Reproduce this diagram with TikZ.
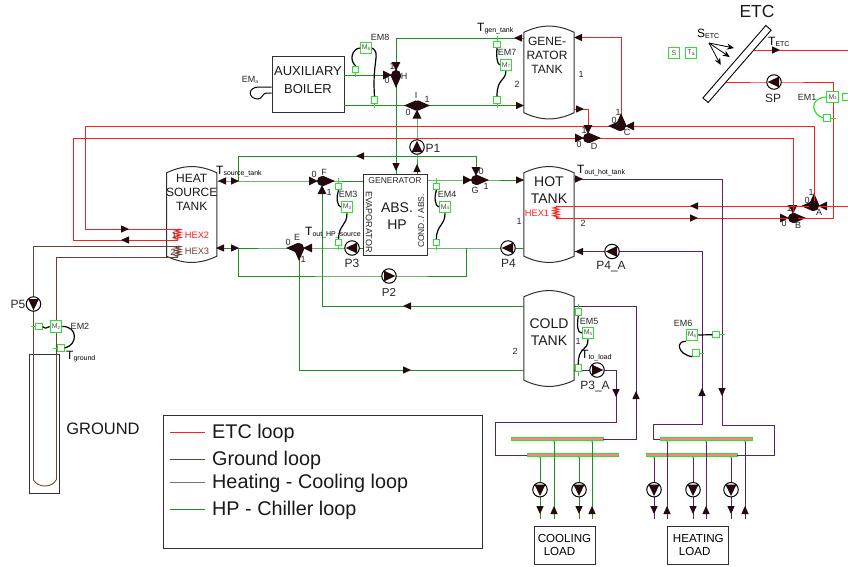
\documentclass[tikz,border=0pt]{standalone}
\usepackage{fontspec}
\setmainfont{Liberation Sans}
\usetikzlibrary{calc,arrows.meta,decorations.pathmorphing}
\definecolor{etcred}{HTML}{FF1E1E}
\definecolor{hpgreen}{HTML}{1E8F1E}
\definecolor{gndbrown}{HTML}{6E4030}
\definecolor{hcpurple}{HTML}{5A2070}
\definecolor{metergreen}{HTML}{30E030}
\definecolor{boxgray}{HTML}{303030}
\definecolor{tipdark}{HTML}{240A0E}
\newcommand{\fs}[1]{\fontsize{#1}{\dimexpr #1pt*116/100\relax}\selectfont}
\newcommand{\subtag}[2]{{\fs{12}#1}{\fs{7}\raisebox{-1pt}{#2}}}
\newcommand{\mtxt}[1]{{\fs{7}M\raisebox{-.8pt}{\fs{4.5}#1}}}
\newcommand{\valve}[4]{\node[valvebody] (#1) at (#2) {};
  \foreach \a in {#3} \fill[tipdark,shift={(#1)},rotate=\a] (1,5.2) -- (13,0) -- (1,-5.2) -- cycle;
  \foreach \a in {#4} \fill[tipdark,shift={(#1)},rotate=\a] (4,0) -- (13,4.4) -- (13,-4.4) -- cycle;}
\newcommand{\pump}[3]{\node[pumpbody] (#1) at (#2) {};
  \fill[tipdark,shift={(#1)},rotate=#3] (6.3,0) -- (-5,5.4) -- (-5,-5.4) -- cycle;}
\newcommand{\tank}[4]{\node[tankbody,minimum height=#4] (#1) at (#2,#3) {};
  \draw[tankline] (#1.north west) to[bend left=25] (#1.north east) -- (#1.south east)
    to[bend left=25] (#1.south west) -- cycle;}
\begin{document}
\begin{tikzpicture}[x=1pt,y=-1pt,
  hploop/.style={draw=hpgreen, line width=.9pt},
  etcloop/.style={draw=etcred, line width=.9pt},
  gndloop/.style={draw=gndbrown, line width=.9pt},
  hcloop/.style={draw=hcpurple, line width=.9pt},
  tankbody/.style={minimum width=50, inner sep=0pt},
  tankline/.style={draw=boxgray, line width=1pt},
  plain/.style={draw=boxgray, line width=1pt, inner sep=0pt, align=center},
  valvebody/.style={circle, fill=tipdark, minimum size=10, inner sep=0pt},
  pumpbody/.style={circle, draw=black, fill=white, line width=1pt, minimum size=14.5, inner sep=0pt},
  mbox/.style={draw=metergreen, fill=white, line width=1pt, minimum size=11.5, inner sep=0pt, text=black!70},
  sensor/.style={draw=metergreen, fill=white, line width=1pt, minimum size=6.5, inner sep=0pt},
  tick/.style={draw=metergreen, line width=.8pt},
  wire/.style={draw=black, line width=1.2pt},
  manifold/.style={draw=metergreen, fill=etcred!55, line width=.7pt, minimum height=3, inner sep=0pt},
  tag/.style={inner sep=0pt, text=black!85, font=\fs{9}},
  tanktext/.style={inner sep=0pt, align=center, text=black!90},
  pumptag/.style={inner sep=0pt, text=black!85, font=\fs{12}},
  coil/.style={decorate, decoration={zigzag, segment length=2.6, amplitude=3}, line width=.9pt},
  legline/.style={line width=1pt},
  legtext/.style={anchor=west, inner sep=0pt, font=\fs{19.8}, text=black!90}]
\useasboundingbox (0,0) rectangle (848,566);

\node[plain, minimum width=72, minimum height=56] (boiler) at (308,84) {};
\node[tanktext, font=\fs{13}] (boilername) at (308,80) {AUXILIARY\\[2.5pt]BOILER};
\node[plain, minimum width=64, minimum height=81] (HP) at (395,214.5) {};
\node[tanktext, font=\fs{14}] (HPname) at (397,216) {ABS.\\HP};
\node[inner sep=0pt, font=\fs{8.5}, text=black!85] (HPgen) at (395,181) {GENERATOR};
\node[inner sep=0pt, font=\fs{9}, rotate=-90, text=black!85] (HPevap) at (369,222) {EVAPORATOR};
\node[inner sep=0pt, font=\fs{8.5}, rotate=90, text=black!85] (HPcond) at (421,221) {COND. / ABS.};
\tank{GT}{549}{72.5}{80}
\tank{HT}{549}{214.5}{83}
\tank{CT}{549}{338.5}{83}
\tank{ST}{191.7}{214.5}{83}
\node[tanktext, font=\fs{12}] (GTname) at (547,55) {GENE-\\RATOR\\TANK};
\node[tanktext, font=\fs{14}] (HTname) at (549,190) {HOT\\TANK};
\node[tanktext, font=\fs{14}] (CTname) at (549,332) {COLD\\TANK};
\node[tanktext, font=\fs{12}] (STname) at (191.7,192) {HEAT\\SOURCE\\TANK};
\node[draw=black, fill=white, line width=.9pt, rotate=49, minimum width=96, minimum height=7, inner sep=0pt] (ETC) at (737,64) {};
\node[inner sep=0pt, font=\fs{17.5}, text=black!90] (ETCname) at (757,11) {ETC};
\node[draw=boxgray, line width=1pt, minimum width=30, minimum height=139.5, inner sep=0pt] (ground) at (44.3,424) {};
\node[inner sep=0pt, font=\fs{16.5}, text=black!90] (groundname) at (103,429) {GROUND};

\node[manifold, minimum width=92] (CU) at (557,439) {};
\node[manifold, minimum width=91] (CL) at (572.5,455) {};
\node[manifold, minimum width=92] (HU) at (706,439) {};
\node[manifold, minimum width=91] (HL) at (691.5,455) {};
\node[plain, minimum width=61, minimum height=38, align=left, font=\fs{11.6}] (coolload) at (564.5,545) {COOLING\\\hspace*{6pt}LOAD};
\node[plain, minimum width=61, minimum height=38, align=left, font=\fs{11.6}] (heatload) at (698.3,545) {HEATING\\\hspace*{6pt}LOAD};

\valve{A}{814,206}{180,90}{0}
\valve{B}{793,218}{0}{180,90}

\coordinate (boilerhot) at (344,75);
\coordinate (boilercold) at (344,105.5);
\coordinate (gentop) at (524,38);
\coordinate (genbot) at (524,105.5);
\coordinate (retop) at (238,156);
\coordinate (rejoin) at (238,181);
\coordinate (STa) at (217,181);
\coordinate (STb) at (217,248);
\coordinate (hota) at (524,180);
\coordinate (hotb) at (524,248);
\coordinate (coldtop) at (524,306);
\coordinate (coldbot) at (524,370);
\coordinate (lowA) at (238,248);
\coordinate (lowB) at (466,248);
\coordinate (etcA) at (85,126);
\coordinate (etcB) at (73,138);
\coordinate (HXa) at (178,229);
\coordinate (HXb) at (178,240);
\coordinate (HXc) at (178,246);
\coordinate (HXd) at (178,257);
\coordinate (gentopr) at (574,37.5);
\coordinate (genbotr) at (574,109);
\coordinate (HXe) at (556,206);
\coordinate (HXf) at (556,218);
\coordinate (etcin) at (848,206);
\coordinate (etcup) at (833,218);
\coordinate (etclow) at (726,82);
\coordinate (etcout) at (754,50);
\coordinate (etcend) at (848,50);
\coordinate (hotout) at (574,179);
\coordinate (hotin) at (574,251.5);
\coordinate (coldout) at (574,306);
\coordinate (coldin) at (574,370);
\coordinate (heatR) at (722,425);
\coordinate (heatRb) at (774,455);
\coordinate (heatL) at (702,424);
\coordinate (heatLb) at (653,439);
\coordinate (coolR) at (636,439);
\coordinate (coolL) at (616,422);
\coordinate (coolLb) at (495,455);
\coordinate (gndL) at (33.5,480);
\coordinate (gndR) at (56,480);

\coordinate (H) at (396,75);
\coordinate (I) at (417,105.5);
\coordinate (F) at (322,181);
\coordinate (E) at (299,248);
\coordinate (G) at (476,180);
\coordinate (C) at (621,126);
\coordinate (D) at (588,138);
\coordinate (P1) at (417,147);
\coordinate (P2) at (389,276);
\coordinate (P3) at (352,248);
\coordinate (P4) at (508,248);
\coordinate (P4A) at (612,251.5);
\coordinate (P3A) at (597,370);
\coordinate (SP) at (774,82);

\draw[hploop] (H) |- (gentop);
\draw[hploop] (H) -- (H |- HP.north);
\draw[hploop] (boilerhot) -- (H);
\draw[hploop] (boilercold) -- (I) -- (genbot);
\draw[hploop] (I) -- (P1) -- (I |- HP.north);
\draw[hploop] (G) |- (retop) -- (rejoin);
\draw[hploop] (STa) -- (F) -- (F -| HP.west);
\draw[hploop] (HP.east |- G) -- (G) -- (hota);
\draw[hploop] (F) |- (coldtop);
\draw[hploop] (E) |- (coldbot);
\draw[hploop] (STb) -- (E) -- (P3) -- (P3 -| HP.west);
\draw[hploop] (HP.east |- P4) -- (P4) -- (hotb);
\draw[hploop] (lowA) |- (P2) -| (lowB);

\draw[etcloop] (HXa) -| (etcA) -| (A);
\draw[etcloop] (HXb) -| (etcB) -| (B);
\draw[etcloop] (gentopr) -| (C);
\draw[etcloop] (genbotr) -| (D);
\draw[etcloop] (HXe) -- (A) -- (etcin);
\draw[etcloop] (HXf) -- (B) -- (etcup) |- (SP) -- (etclow);
\draw[etcloop] (etcout) -- (etcend);
\draw[etcloop, coil] (HXa) -- (HXb);
\draw[etcloop, coil] (HXe) -- (HXf);

\draw[gndloop] (HXc) -| (gndL);
\draw[gndloop] (HXd) -| (gndR);
\draw[gndloop, coil] (HXc) -- (HXd);
\draw[gndloop] (gndL) .. controls (38,488) and (52,488) .. (gndR);

\draw[hcloop] (hotout) -| (heatR) -| (heatRb) -- (HL.east);
\draw[hcloop] (hotin) -- (P4A) -| (heatL) -| (heatLb) -- (HU.west);
\draw[hcloop] (coldout) -| (coolR) -- (CU.east);
\draw[hcloop] (coldin) -- (P3A) -| (coolL) -| (coolLb) -- (CL.west);

\foreach \x in {554,592} {
  \draw[hploop] (\x,441) -- (\x,519);
  \fill[metergreen] (\x,441) circle (1.4);
}
\foreach \x in {540,579} {
  \draw[hploop] (\x,457) -- (\x,519);
  \fill[metergreen] (\x,457) circle (1.4);
  \pump{cp\x}{\x,489.7}{270}
}
\foreach \x in {667,706,745} {
  \draw[hcloop] (\x,441) -- (\x,519);
  \fill[metergreen] (\x,441) circle (1.4);
}
\foreach \x in {654,693,731} {
  \draw[hcloop] (\x,457) -- (\x,519);
  \fill[metergreen] (\x,457) circle (1.4);
  \pump{hp\x}{\x,489.7}{270}
}

\valve{H}{396,75}{270}{180,90}
\valve{I}{417,105.5}{180,0}{270}
\valve{F}{322,181}{0}{180,270}
\valve{E}{299,248}{180,270}{0}
\valve{G}{476,180}{0}{180,90}
\valve{C}{621,126}{180,90}{0}
\valve{D}{588,138}{0}{180,90}

\pump{P1}{417,147}{90}
\pump{P2}{389,276}{0}
\pump{P3}{352,248}{180}
\pump{P4}{508,248}{180}
\pump{P4A}{612,251.5}{180}
\pump{P3A}{597,370}{0}
\pump{P5}{33.5,304}{270}
\pump{SP}{774,82}{180}

\foreach \x/\y/\a in {518/38/180, 520/105.5/0, 360/156/180, 396/167/270, 417/168/90,
  222/181/180, 235/181/0, 220/248/180, 235/248/0, 520/180/0, 407/306/180, 407/370/0,
  125/229/0, 125/240/180, 578/37.5/180, 580/109/0, 694/206/180, 694/218/0, 776/50/0,
  579/179/0, 579/251.5/180, 722/392/270, 702/392/90, 636/395/90, 616/393/270,
  540/510/270, 579/510/270, 654/510/270, 693/510/270, 731/510/270,
  554/510/90, 592/510/90, 667/510/90, 706/510/90, 745/510/90}
  \fill[tipdark,shift={(\x,\y)},rotate=\a] (4,0) -- (-4,3.7) -- (-4,-3.7) -- cycle;

\coordinate (sun) at (709,43);
\coordinate (sunA) at (734,48);
\coordinate (sunB) at (729.7,57);
\coordinate (sunC) at (720.7,65);
\foreach \t in {sunA,sunB,sunC}
  \draw[-{Stealth[length=7pt,width=6pt]}, line width=.8pt] (sun) -- (\t);

\foreach \n/\x/\y in {8/366/48, 7/506/65, 3/347/207, 4/445/207, 5/588/333, 6/692/335, 2/56/326.5, 1/832.7/97}
  \node[mbox] (M\n) at (\x,\y) {\mtxt{\n}};
\node[mbox] (Sbox) at (674,53) {\fs{7}S};
\node[mbox] (Tabox) at (691,53) {\fs{7}T\raisebox{-.8pt}{\fs{5}a}};

\foreach \n/\x/\y/\ax/\ay/\bx/\by in {
  a8/355.5/69.5/355.5/77/355.5/66, b8/374.5/100/374.5/108/374.5/97,
  a7/497/44.5/497/36/497/51, b7/497/100/497/95/497/108,
  a3/338.5/186.5/338.5/178/338.5/192, b3/338.5/242.5/338.5/237/338.5/250,
  a4/436.3/186.5/436.3/178/436.3/192, b4/436.3/242.5/436.3/237/436.3/250,
  a5/578.3/312/578.3/304/578.3/317, b5/578.3/368/578.3/362/578.3/376,
  a6/716/334.7/716/334.7/725/334.7, b6/696/353/696/353/704/353,
  a2/39/326.5/39/326.5/31/326.5, b2/61/348/61/348/53/348,
  a1/846/97/846/97/848/97, b1/827/118/827/118/836/118} {
  \draw[tick] (\ax,\ay) -- (\bx,\by);
  \node[sensor] (S\n) at (\x,\y) {};
}

\draw[wire] (M8.west) .. controls (352,49) and (349,60) .. (Sa8.north);
\draw[wire] (M8.east) .. controls (381,54) and (372,60) .. (Sb8.north);
\draw[wire] (Sa7.south) .. controls (496,55) and (497,64) .. (M7.west);
\draw[wire] (M7.south) .. controls (505,82) and (497,78) .. (Sb7.north);
\draw[wire] (Sa3.south) .. controls (336,197) and (337,206) .. (M3.west);
\draw[wire] (M3.south) .. controls (347,226) and (339,224) .. (Sb3.north);
\draw[wire] (Sa4.south) .. controls (434,197) and (435,206) .. (M4.west);
\draw[wire] (M4.south) .. controls (445,226) and (437,224) .. (Sb4.north);
\draw[wire] (Sa5.south) .. controls (577,325) and (577,333) .. (M5.west);
\draw[wire] (M5.south) .. controls (588,352) and (578,346) .. (Sb5.north);
\draw[wire] (M6.east) -- (Sa6.west);
\draw[wire] (M6.south west) .. controls (676,341) and (677,354) .. (Sb6.south west);
\draw[wire] (Sa2.east) .. controls (45,329) and (47,328) .. (M2.west);
\draw[wire] (M2.east) .. controls (78,326) and (78,345) .. (Sb2.east);
\draw[draw=metergreen, line width=1.2pt] (M1.west) .. controls (808,98) and (812,115) .. (Sb1.west);
\draw[draw=black, line width=1pt] (boiler.west |- 0,87) -- (259,87) .. controls (247,87) and (248,99) .. (258,99)
  .. controls (262,99) and (263,93) .. (266,93) -- (boiler.west |- 0,93);

\foreach \t/\x/\y [count=\n] in {1/392/66, 0/387/80, H/404/76, I/416/95, 0/408/112, 1/427/99,
  0/314/174, F/324/172, 1/329/192, 0/288/242, E/297/237, 1/303/259, 0/481/171, 1/486/186, G/475/190,
  1/618/112, 0/614/120, C/627/132, 1/584/130, 0/579/144, D/594/146,
  1/811/192, 0/807/200, A/819/212, 1/789/208, 0/784/223, B/798/225,
  1/174/235, 2/173/252, 2/517/84, 1/581/74, 1/519/221, 2/583/223, 1/578/341, 2/515/351}
  \node[tag] (tag\n) at (\x,\y) {\t};
\foreach \t/\x/\y [count=\n] in {EM8/380/37, EM7/507/52, EM5/589/321, EM6/683/323, EM3/348/194,
  EM4/447/194, EM1/807/97, EM2/80/326}
  \node[tag] (em\n) at (\x,\y) {\t};
\node[tag] (emaux) at (250,80) {EM\raisebox{-.8pt}{\fs{5}a}};

\node[tag, font=\fs{9.3}, text=etcred] (hex1) at (537,213) {HEX1};
\node[tag, font=\fs{9.3}, text=etcred] (hex2) at (197,235) {HEX2};
\node[tag, font=\fs{9.3}, text=gndbrown] (hex3) at (197,251) {HEX3};

\node[inner sep=0pt, anchor=west] (Tsrc) at (216,172) {\subtag{T}{source\_tank}};
\node[inner sep=0pt, anchor=west] (Thp) at (305,233) {\subtag{T}{out\_HP\_source}};
\node[inner sep=0pt, anchor=west] (Tgen) at (477,29) {\subtag{T}{gen\_tank}};
\node[inner sep=0pt, anchor=west] (Thot) at (577,171) {\subtag{T}{out\_hot\_tank}};
\node[inner sep=0pt, anchor=west] (Tload) at (581,356) {\subtag{T}{to\_load}};
\node[inner sep=0pt, anchor=west] (Tetc) at (768,42) {\subtag{T}{ETC}};
\node[inner sep=0pt, anchor=west] (Setc) at (697,34) {\subtag{S}{ETC}};
\node[inner sep=0pt, anchor=west] (Tgnd) at (66,357) {\subtag{T}{ground}};

\node[pumptag] (P1name) at (433,148) {P1};
\node[pumptag, font=\fs{11.5}] (P2name) at (389,292) {P2};
\node[pumptag] (P3name) at (352,263) {P3};
\node[pumptag] (P4name) at (508.5,263) {P4};
\node[pumptag] (P4Aname) at (611,267) {P4\_A};
\node[pumptag] (P3Aname) at (595,386) {P3\_A};
\node[pumptag] (P5name) at (18,304) {P5};
\node[pumptag] (SPname) at (773,98) {SP};

\node[draw=boxgray, line width=1pt, minimum width=318.7, minimum height=133.4, inner sep=0pt] (legend) at (322.7,482) {};
\coordinate (legA) at (170,432);
\coordinate (legB) at (170,459);
\coordinate (legC) at (170,482);
\coordinate (legD) at (170,509);
\draw[legline, etcred] (legA) -- ++(35,0);
\draw[legline, gndbrown] (legB) -- ++(35,0);
\draw[legline, hcpurple!70] (legC) -- ++(35,0);
\draw[legline, hpgreen] (legD) -- ++(35,0);
\node[legtext] (legAt) at (212,433) {ETC loop};
\node[legtext] (legBt) at (212,460) {Ground loop};
\node[legtext] (legCt) at (212,483) {Heating - Cooling loop};
\node[legtext] (legDt) at (212,510) {HP - Chiller loop};
\end{tikzpicture}
\end{document}
